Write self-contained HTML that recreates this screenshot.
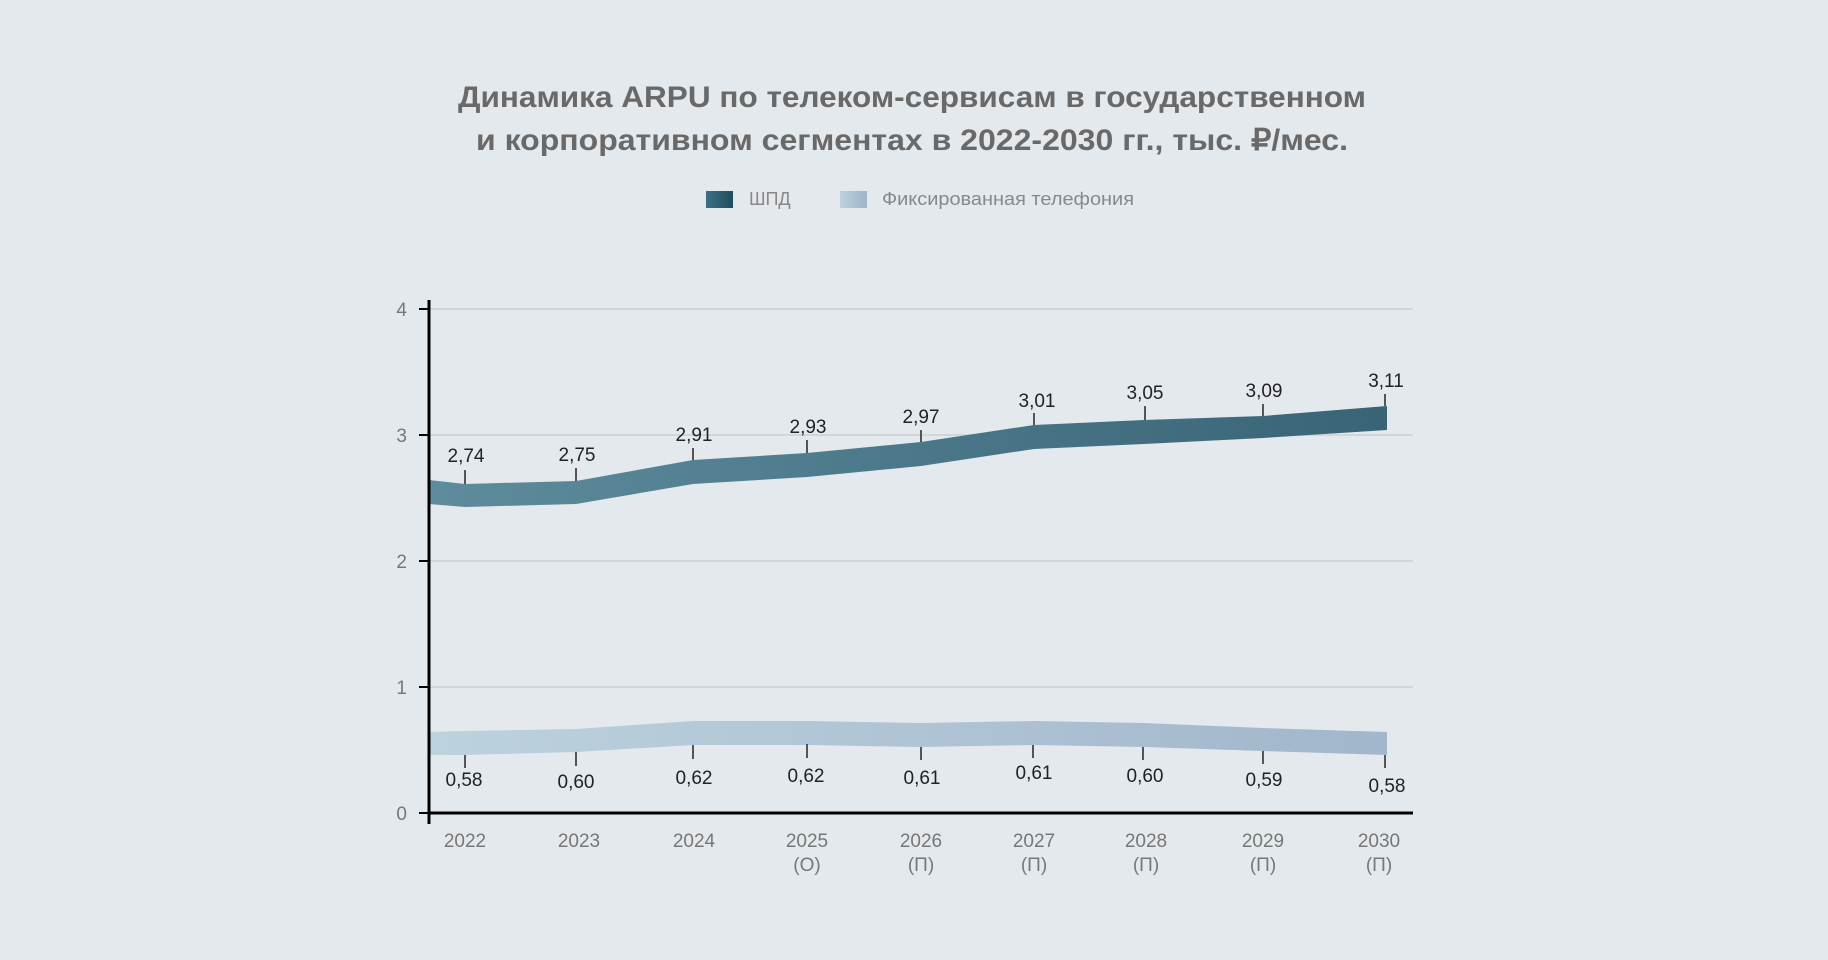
<!DOCTYPE html>
<html><head><meta charset="utf-8"><style>
html,body{margin:0;padding:0;background:#e4e9ed;}
svg{display:block;font-family:"Liberation Sans",sans-serif;}
</style></head><body>
<svg width="1828" height="960" viewBox="0 0 1828 960" xmlns="http://www.w3.org/2000/svg">
<defs>
<linearGradient id="g1" x1="0" x2="1" y1="0" y2="0"><stop offset="0" stop-color="#5e8c9d"/><stop offset="1" stop-color="#386476"/></linearGradient>
<linearGradient id="g2" x1="0" x2="1" y1="0" y2="0"><stop offset="0" stop-color="#bcd2dc"/><stop offset="1" stop-color="#a2b6cc"/></linearGradient>
<linearGradient id="l1" x1="0" x2="1"><stop offset="0" stop-color="#3d6f82"/><stop offset="1" stop-color="#1f4d60"/></linearGradient>
<linearGradient id="l2" x1="0" x2="1"><stop offset="0" stop-color="#bcd2dc"/><stop offset="1" stop-color="#9fb4cb"/></linearGradient>
</defs>
<rect width="1828" height="960" fill="#e4e9ed"/>
<g fill="#696969" font-weight="bold" font-size="30" text-anchor="middle">
<text x="912" y="107" textLength="908" lengthAdjust="spacingAndGlyphs">Динамика ARPU по телеком-сервисам в государственном</text>
<text x="912" y="150" textLength="872" lengthAdjust="spacingAndGlyphs">и корпоративном сегментах в 2022-2030 гг., тыс. ₽/мес.</text>
</g>
<rect x="706" y="191" width="27" height="17" fill="url(#l1)"/>
<text x="749" y="205" font-size="18" fill="#888">ШПД</text>
<rect x="840" y="191" width="27" height="17" fill="url(#l2)"/>
<text x="882" y="205" font-size="18" fill="#888" textLength="252" lengthAdjust="spacingAndGlyphs">Фиксированная телефония</text>
<g stroke="#d3d6d9" stroke-width="2">
<line x1="429" x2="1413" y1="309" y2="309"/><line x1="429" x2="1413" y1="435" y2="435"/>
<line x1="429" x2="1413" y1="561" y2="561"/><line x1="429" x2="1413" y1="687" y2="687"/>
</g>
<polygon fill="url(#g1)" points="429,480 465,484 576,481 693,460 807,453 921,442 1034,425 1144,420 1263,416 1387,406 1387,430 1263,438 1144,444 1034,449 921,466 807,477 693,484 576,504 465,507 429,504"/>
<polygon fill="url(#g2)" points="429,732 465,731 576,729 693,721 807,721 921,723 1034,721 1144,723 1263,728 1387,732 1387,755 1263,751 1144,747 1034,745 921,747 807,745 693,745 576,752 465,755 429,755"/>
<g stroke="#555" stroke-width="2">
<line x1="465" x2="465" y1="470" y2="484"/><line x1="576" x2="576" y1="468" y2="481"/>
<line x1="693" x2="693" y1="448" y2="460"/><line x1="807" x2="807" y1="440" y2="453"/>
<line x1="921" x2="921" y1="430" y2="442"/><line x1="1034" x2="1034" y1="413" y2="425"/>
<line x1="1145" x2="1145" y1="406" y2="420"/><line x1="1263" x2="1263" y1="404" y2="416"/>
<line x1="1385" x2="1385" y1="394" y2="406"/>
<line x1="465" x2="465" y1="755" y2="768"/><line x1="576" x2="576" y1="752" y2="766"/>
<line x1="693" x2="693" y1="745" y2="759"/><line x1="807" x2="807" y1="744" y2="758"/>
<line x1="921" x2="921" y1="747" y2="760"/><line x1="1033" x2="1033" y1="745" y2="758"/>
<line x1="1143" x2="1143" y1="747" y2="760"/><line x1="1263" x2="1263" y1="751" y2="764"/>
<line x1="1385" x2="1385" y1="755" y2="768"/>
</g>
<g font-size="19" fill="#222" text-anchor="middle">
<text x="466" y="462">2,74</text><text x="577" y="461">2,75</text><text x="694" y="441">2,91</text>
<text x="808" y="433">2,93</text><text x="921" y="423">2,97</text><text x="1037" y="407">3,01</text>
<text x="1145" y="399">3,05</text><text x="1264" y="397">3,09</text><text x="1386" y="387">3,11</text>
<text x="464" y="786">0,58</text><text x="576" y="788">0,60</text><text x="694" y="784">0,62</text>
<text x="806" y="782">0,62</text><text x="922" y="784">0,61</text><text x="1034" y="779">0,61</text>
<text x="1145" y="782">0,60</text><text x="1264" y="786">0,59</text><text x="1387" y="792">0,58</text>
</g>
<g stroke="#000" stroke-width="3">
<line x1="429" x2="429" y1="300" y2="824"/><line x1="428" x2="1413" y1="813" y2="813"/>
</g>
<g stroke="#000" stroke-width="2">
<line x1="419" x2="429" y1="309" y2="309"/><line x1="419" x2="429" y1="435" y2="435"/>
<line x1="419" x2="429" y1="561" y2="561"/><line x1="419" x2="429" y1="687" y2="687"/>
<line x1="419" x2="429" y1="813" y2="813"/>
</g>
<g font-size="19" fill="#777" text-anchor="end">
<text x="407" y="316">4</text><text x="407" y="442">3</text><text x="407" y="568">2</text>
<text x="407" y="694">1</text><text x="407" y="820">0</text>
</g>
<g font-size="19" fill="#777" text-anchor="middle">
<text x="465" y="847">2022</text><text x="579" y="847">2023</text><text x="694" y="847">2024</text>
<text x="807" y="847">2025</text><text x="807" y="871">(О)</text>
<text x="921" y="847">2026</text><text x="921" y="871">(П)</text>
<text x="1034" y="847">2027</text><text x="1034" y="871">(П)</text>
<text x="1146" y="847">2028</text><text x="1146" y="871">(П)</text>
<text x="1263" y="847">2029</text><text x="1263" y="871">(П)</text>
<text x="1379" y="847">2030</text><text x="1379" y="871">(П)</text>
</g>
</svg>
</body></html>
